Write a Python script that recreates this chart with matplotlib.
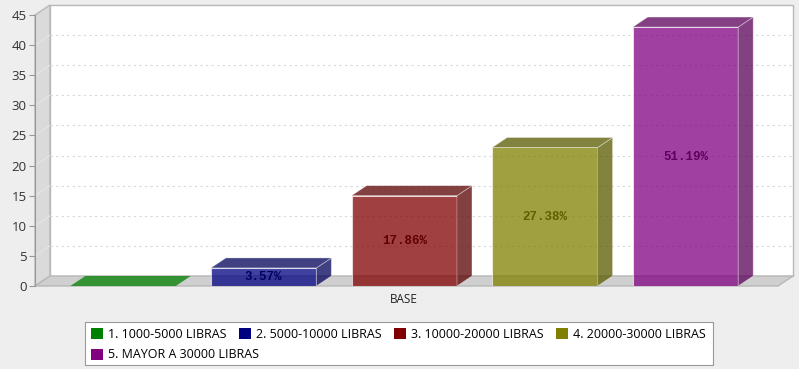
import numpy as np
import matplotlib
matplotlib.use("Agg")
import matplotlib.pyplot as plt
from matplotlib.patches import Polygon, Patch, Rectangle

categories = ["1. 1000-5000 LIBRAS", "2. 5000-10000 LIBRAS", "3. 10000-20000 LIBRAS",
              "4. 20000-30000 LIBRAS", "5. MAYOR A 30000 LIBRAS"]
counts = [0, 3, 15, 23, 43]
colors = ["#008000", "#000080", "#800000", "#808000", "#800080"]
group_label = "BASE"
yticks = [0, 5, 10, 15, 20, 25, 30, 35, 40, 45]

plt.rcParams["font.family"] = ["Open Sans", "DejaVu Sans"]
W, H = 799, 369
fig = plt.figure(figsize=(W / 100, H / 100), dpi=100)
fig.patch.set_facecolor("#eeeeee")

# front plane of the plot (pixels)
px_l, px_r, px_b, px_t = 35, 778, 286, 15
ax = fig.add_axes([px_l / W, 1 - px_b / H, (px_r - px_l) / W, (px_b - px_t) / H])
ax.set_facecolor("none")

ymax = 45
xl, xr = -0.626, 4.658
ax.set_xlim(xl, xr)
ax.set_ylim(0, ymax)
ppu_x = (px_r - px_l) / (xr - xl)
ppu_y = (px_b - px_t) / ymax
dx = 15 / ppu_x
dy = 10 / ppu_y

wall = "#b8b8b8"
# back wall
ax.add_patch(Polygon([(xl + dx, dy), (xr + dx, dy), (xr + dx, ymax + dy), (xl + dx, ymax + dy)],
                     closed=True, fc="white", ec=wall, lw=1, clip_on=False, zorder=0))
# left wall
ax.add_patch(Polygon([(xl, 0), (xl + dx, dy), (xl + dx, ymax + dy), (xl, ymax)],
                     closed=True, fc="#dadada", ec=wall, lw=1, clip_on=False, zorder=0.5))
# floor
ax.add_patch(Polygon([(xl, 0), (xr, 0), (xr + dx, dy), (xl + dx, dy)],
                     closed=True, fc="#cfcfcf", ec=wall, lw=1, clip_on=False, zorder=0.5))

# grid on back wall
for t in yticks[1:-1]:
    ax.plot([xl + dx, xr + dx], [t + dy, t + dy], color="#d8d8d8", lw=0.8,
            ls=(0, (2, 3)), clip_on=False, zorder=0.6)
    ax.plot([xl, xl + dx], [t, t + dy], color="#e8e8e8", lw=0.6, clip_on=False, zorder=0.6)

total = sum(counts)
w = 0.75
alpha = 0.75
for i, (v, c) in enumerate(zip(counts, colors)):
    rgb = np.array(matplotlib.colors.to_rgb(c))
    dark = rgb * 0.7
    x0, x1 = i - w / 2, i + w / 2
    if v > 0:
        ax.add_patch(Polygon([(x0, 0), (x1, 0), (x1, v), (x0, v)], closed=True,
                             fc=(*rgb, alpha), ec=(1, 1, 1, 0.6), lw=0.8, zorder=3))
        ax.add_patch(Polygon([(x1, 0), (x1 + dx, dy), (x1 + dx, v + dy), (x1, v)], closed=True,
                             fc=(*dark, alpha), ec=(1, 1, 1, 0.4), lw=0.6, zorder=3))
        ax.text(i, v / 2, f"{v / total * 100:.2f}%", ha="center", va="center",
                fontsize=9, fontweight="bold", family="Liberation Mono",
                color="#000000", zorder=2)
    ax.add_patch(Polygon([(x0, v), (x1, v), (x1 + dx, v + dy), (x0 + dx, v + dy)], closed=True,
                         fc=(*dark, alpha) if v > 0 else (*rgb, alpha),
                         ec=(1, 1, 1, 0.4) if v > 0 else "none", lw=0.6, zorder=3,
                         clip_on=False))

for s in ["top", "right", "bottom"]:
    ax.spines[s].set_visible(False)
ax.spines["left"].set_color("#999999")
ax.set_yticks(yticks)
ax.tick_params(axis="y", colors="#999999", labelcolor="#333333", labelsize=9.5,
               length=4, width=0.8, pad=2)
ax.set_xticks([2])
ax.set_xticklabels([group_label])
ax.tick_params(axis="x", length=0, labelsize=8.5, labelcolor="#222222", pad=5)

# legend: frame + two rows flowing left to right
fig.add_artist(Rectangle((85 / W, 1 - 365 / H), 628 / W, 43 / H, transform=fig.transFigure,
                         fc="white", ec="#999999", lw=0.8, zorder=1))
handles = [Patch(fc=c, ec="none") for c in colors]
leg_kw = dict(loc="center left", fontsize=9, frameon=False, handlelength=0.95,
              handleheight=0.95, handletextpad=0.45, columnspacing=0.95,
              borderpad=0, borderaxespad=0)
leg1 = fig.legend(handles[:4], categories[:4], ncol=4,
                  bbox_to_anchor=(91 / W, 1 - 334 / H), **leg_kw)
leg2 = fig.legend(handles[4:], categories[4:], ncol=1,
                  bbox_to_anchor=(91 / W, 1 - 355 / H), **leg_kw)
leg1.set_zorder(2)
leg2.set_zorder(2)

fig.savefig("out.png", dpi=100, facecolor=fig.get_facecolor())
